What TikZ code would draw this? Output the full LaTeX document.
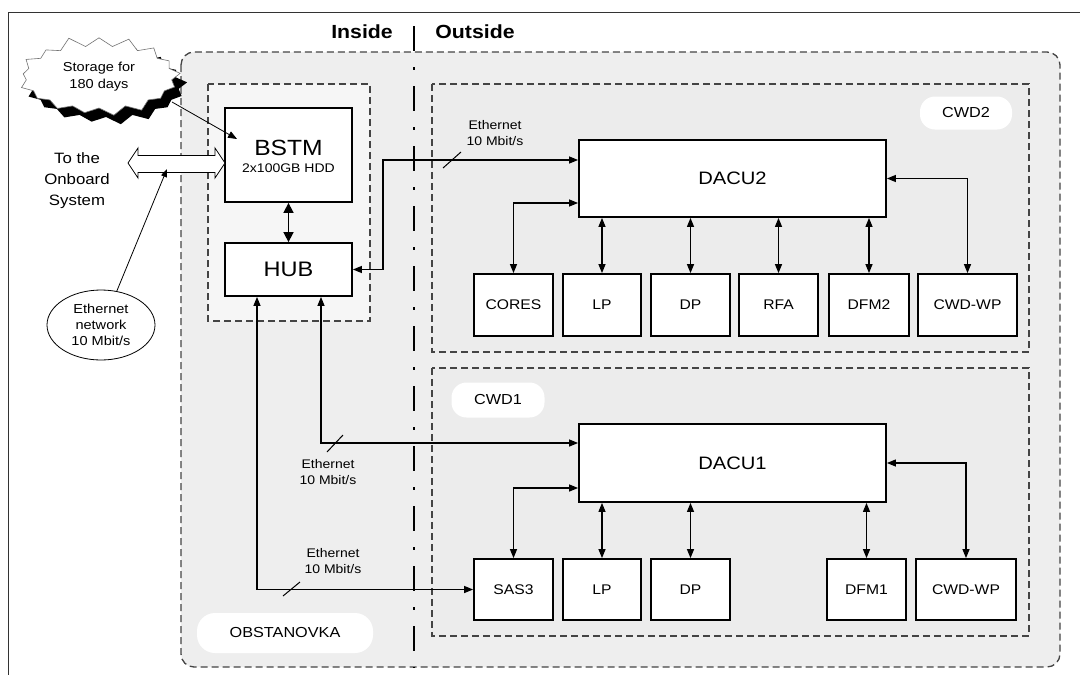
\documentclass[tikz,border=0pt]{standalone}
\usepackage{fontspec}
\setmainfont[FakeStretch=1.12]{Liberation Sans}
\usetikzlibrary{arrows.meta,shapes.symbols,shapes.geometric}
\definecolor{bgmain}{HTML}{EEEEEE}
\definecolor{bginner}{HTML}{F6F6F6}
\definecolor{bgcwd}{HTML}{ECECEC}
\definecolor{dashc}{HTML}{444444}
\tikzset{
  dbox/.style={draw=dashc, line width=1.3pt, dash pattern=on 7pt off 4pt},
  blk/.style={draw=black, line width=1.8pt, fill=white, inner sep=0pt},
  small/.style={blk, font=\fontsize{14}{16}\selectfont},
  conn/.style={line width=1.2pt, {Triangle[length=9pt,width=7pt]}-{Triangle[length=9pt,width=7pt]}},
  tag/.style={fill=white, rounded corners=15pt, inner sep=0pt, font=\fontsize{14.5}{17}\selectfont},
  lbl/.style={align=center, inner sep=0pt, font=\fontsize{12.5}{16}\selectfont},
  hdr/.style={inner sep=0pt, font=\fontsize{19}{22}\selectfont\bfseries},
  burst/.style={starburst, starburst points=17, starburst point height=11pt, random starburst=11,
      minimum width=168pt, minimum height=84pt, inner sep=0pt},
}
\begin{document}
\begin{tikzpicture}[x=1pt,y=-1pt]
\useasboundingbox (0,0) rectangle (1080,675);
\fill[white] (0,0) rectangle (1080,675);
% outer frame
\draw[line width=0.9pt, black!80] (8,675) -- (8,12) -- (1080,12);
% main area
\draw[dbox, fill=bgmain, rounded corners=13pt] (181,52) rectangle (1060,667);
\draw[dbox, fill=bginner] (208,84) rectangle (370,321);
\draw[dbox, fill=bgcwd] (432,84) rectangle (1029,352);
\draw[dbox, fill=bgcwd] (432,368) rectangle (1029,636);
% inside / outside divider
\draw[line width=2.6pt, dash pattern=on 25pt off 16pt on 2.5pt off 16.5pt] (414,26) -- (414,668);
\node[hdr] (inside) at (362,32) {Inside};
\node[hdr] (outside) at (475,32) {Outside};
% labels
\node[tag, minimum width=92pt, minimum height=33pt] (cwd2) at (966,113) {CWD2};
\node[tag, minimum width=93pt, minimum height=35pt] (cwd1) at (498,400) {CWD1};
\node[tag, minimum width=176pt, minimum height=40pt, rounded corners=18pt] (obst) at (285,633) {OBSTANOVKA};
% storage starburst
\node[burst, fill=black] (storesh) at (106,86) {};
\node[burst, fill=white, draw=black!55, line width=0.6pt,
      align=center, font=\fontsize{13}{17}\selectfont] (store) at (99,77) {Storage for\\180 days};
% left boxes
\node[blk, minimum width=127pt, minimum height=94pt] (bstm) at (288.5,155) {};
\node[font=\fontsize{22}{24}\selectfont] (bstmt) at (288.5,148) {BSTM};
\node[font=\fontsize{12.5}{14}\selectfont] (bstmh) at (288.5,168) {2x100GB HDD};
\node[blk, minimum width=127pt, minimum height=53pt, font=\fontsize{21}{24}\selectfont] (hub) at (288.5,269.5) {HUB};
% to onboard system
\node[align=center, inner sep=0pt, font=\fontsize{15}{21}\selectfont] (onb) at (77,181) {To the\\Onboard\\System};
\draw[black, line width=0.8pt, fill=white] (128,163) -- (138,148) -- (138,155.5) -- (215,155.5) -- (215,148)
  -- (225,163) -- (215,178) -- (215,172.5) -- (138,172.5) -- (138,178) -- cycle;
\coordinate (dblarr) at (167,169);
\node[ellipse, draw=black, line width=0.8pt, fill=white, minimum width=108pt, minimum height=70pt,
      inner sep=0pt, align=center, font=\fontsize{13}{16}\selectfont] (eth) at (101,325) {Ethernet\\network\\10 Mbit/s};
\draw[line width=0.8pt, -{Triangle[length=8pt,width=6pt]}] (eth.65) -- (dblarr);
\coordinate (stA) at (172,102);
\coordinate (stB) at (237,139);
\draw[line width=0.8pt, -{Triangle[length=9pt,width=7pt]}] (stA) -- (stB);
% DACU boxes
\node[blk, minimum width=307pt, minimum height=77pt, font=\fontsize{18}{20}\selectfont] (dacu2) at (732.5,178.5) {DACU2};
\node[blk, minimum width=307pt, minimum height=78pt, font=\fontsize{18}{20}\selectfont] (dacu1) at (732.5,463) {DACU1};
% CWD2 row
\node[small, minimum width=79pt, minimum height=62pt] (cores) at (513.5,305) {CORES};
\node[small, minimum width=78pt, minimum height=62pt] (lp2) at (602,305) {LP};
\node[small, minimum width=79pt, minimum height=62pt] (dp2) at (690.5,305) {DP};
\node[small, minimum width=79pt, minimum height=62pt] (rfa) at (778.5,305) {RFA};
\node[small, minimum width=80pt, minimum height=62pt] (dfm2) at (869,305) {DFM2};
\node[small, minimum width=99pt, minimum height=62pt] (wp2) at (967.5,305) {CWD-WP};
% CWD1 row
\node[small, minimum width=79pt, minimum height=61pt] (sas3) at (513.5,589.5) {SAS3};
\node[small, minimum width=78pt, minimum height=61pt] (lp1) at (602,589.5) {LP};
\node[small, minimum width=79pt, minimum height=61pt] (dp1) at (690.5,589.5) {DP};
\node[small, minimum width=79pt, minimum height=61pt] (dfm1) at (866.5,589.5) {DFM1};
\node[small, minimum width=100pt, minimum height=61pt] (wp1) at (966,589.5) {CWD-WP};
% connectors
\draw[line width=1.6pt, {Triangle[length=10pt,width=10pt]}-{Triangle[length=10pt,width=10pt]}] (bstm.south) -- (hub.north);
\draw[conn] (hub.east) -- (hub.east -| 383,0) -- (383,160) -- (dacu2.west |- 0,160);
\draw[conn] (hub.south -| 321,0) -- (321,443) -- (dacu1.west |- 0,443);
\draw[conn] (hub.south -| 257,0) -- (sas3.west -| 257,0) -- (sas3.west);
\draw[conn] (dacu2.west |- 0,203) -| (cores.north);
\draw[conn] (dacu1.west |- 0,488) -| (sas3.north);
\draw[conn] (dacu2.east) -| (wp2.north);
\draw[conn] (dacu1.east) -| (wp1.north);
\foreach \b in {lp2,dp2,rfa,dfm2} \draw[conn] (\b.north) -- (\b.north |- dacu2.south);
\foreach \b in {lp1,dp1,dfm1} \draw[conn] (\b.north) -- (\b.north |- dacu1.south);
% slashes
\draw[line width=1pt] (443,168) -- (461,152);
\draw[line width=1pt] (327,452) -- (343,435);
\draw[line width=1pt] (283,596) -- (300,582);
% ethernet labels
\node[lbl] (e1) at (495,133) {Ethernet\\10 Mbit/s};
\node[lbl] (e2) at (328,472) {Ethernet\\10 Mbit/s};
\node[lbl] (e3) at (333,561) {Ethernet\\10 Mbit/s};
\end{tikzpicture}
\end{document}
